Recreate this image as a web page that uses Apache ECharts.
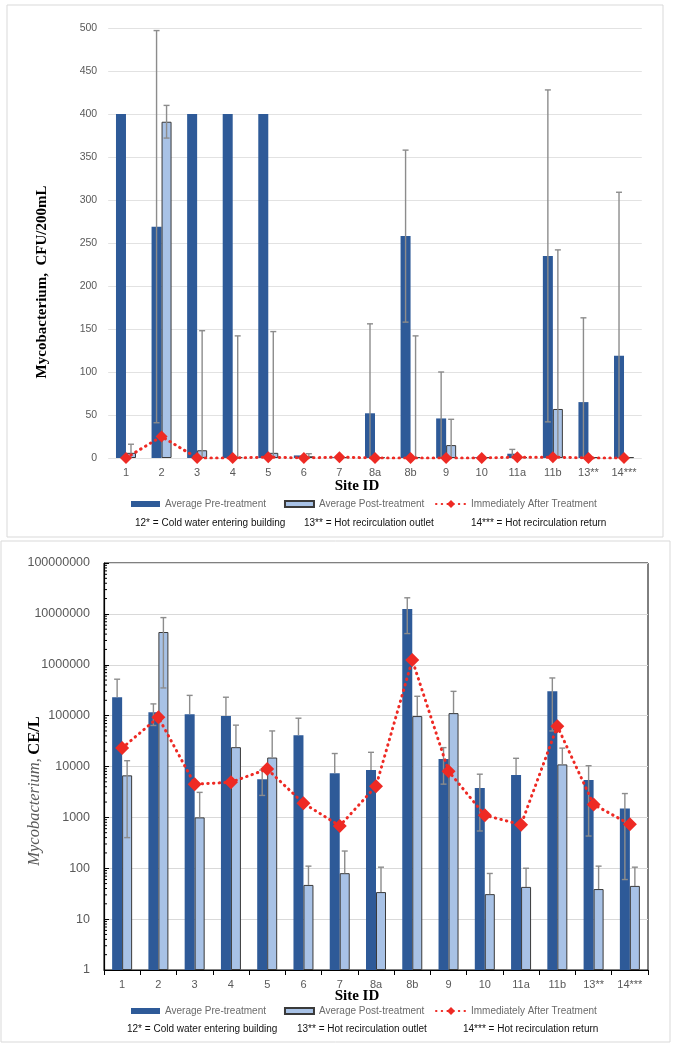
<!DOCTYPE html>
<html><head><meta charset="utf-8">
<script src="https://cdn.jsdelivr.net/npm/echarts@6/dist/echarts.min.js"></script>
<style>html,body{margin:0;padding:0;background:#fff}#c{width:680px;height:1050px}</style>
</head><body><div id="c"></div>
<script>
// ---------- DATA ----------
const cats = ['1','2','3','4','5','6','7','8a','8b','9','10','11a','11b','13**','14***'];
const seriesNames = ['Average Pre-treatment','Average Post-treatment','Immediately After Treatment'];

// Top chart: CFU/200mL (linear)
const topPre     = [400,269,400,400,400,3,1,52,258,46,1,5,235,65,119];
const topPreErr  = [0,228,0,0,0,0,0,104,100,54,0,5,193,98,190];
const topPost    = [6,391,9,1,6,2,1,1,1,15,1,1,57,1,1];
const topPostErr = [10,19,139,141,141,3,0,0,141,30,0,0,185,0,0];
const topImm     = [0,25,0,0,1,0,1,0,0,0,0,1,1,0,0];

// Bottom chart: CE/L (log)
const botPre     = [230000,117000,107000,98000,5600,41000,7400,8500,12400000,14000,3800,6800,300000,5400,1500];
const botPreErr  = [290000,53000,143000,132000,2900,48000,10600,10500,8300000,9500,3260,7700,250000,4970,1440];
const botPost    = [6700,4400000,1000,24000,15000,47,80,34,98000,112000,31,43,11000,39,45];
const botPostErr = [6300,4050000,2100,41000,35000,63,138,71,142000,188000,48,57,12000,71,60];
const botImm     = [23000,93000,4500,4900,8900,1900,680,4100,1240000,8100,1100,720,62000,1800,730];

const notes = ['12* = Cold water entering building','13** = Hot recirculation outlet','14*** = Hot recirculation return'];

// minor log ticks (2..9 x 10^k)
const minorVals = [];
for (let k = 0; k < 8; k++) for (let m = 2; m <= 9; m++) minorVals.push(m * Math.pow(10, k));

// ---------- STYLE ----------
const SANS = '"Liberation Sans", Arial, sans-serif';
const SERIF = '"Liberation Serif", "Times New Roman", serif';
const PRE = '#2E5A98', POST = '#A8C2E6', RED = '#EE2A24', ERR = '#8c8c8c';

function errRender(offset, isLog) {
  return function (params, api) {
    const idx = api.value(0), v = api.value(1), e = api.value(2);
    if (!e) return null;
    const hi = v + e, lo = v - e;
    const pHi = api.coord([idx, hi]);
    const x = pHi[0] + offset;
    const children = [];
    let yLo, lowCap = false;
    if (lo > 0) { yLo = api.coord([idx, lo])[1]; lowCap = true; }
    else { yLo = isLog ? api.coord([idx, v])[1] : api.coord([idx, 0])[1]; }
    const st = { stroke: ERR, lineWidth: 1.4 };
    children.push({ type: 'line', shape: { x1: x, y1: pHi[1], x2: x, y2: yLo }, style: st });
    children.push({ type: 'line', shape: { x1: x - 3, y1: pHi[1], x2: x + 3, y2: pHi[1] }, style: st });
    if (lowCap) children.push({ type: 'line', shape: { x1: x - 3, y1: yLo, x2: x + 3, y2: yLo }, style: st });
    return { type: 'group', children };
  };
}
const tri = (v, e) => cats.map((c, i) => [i, v[i], e[i]]);

const barBase = (name, gi, data, post) => ({
  type: 'bar', name, xAxisIndex: gi, yAxisIndex: gi, data, barWidth: 10, barGap: '0%',
  itemStyle: post ? { color: POST, borderColor: '#3a3a3a', borderWidth: 1 } : { color: PRE },
  emphasis: { disabled: true }, z: 2
});
const errSeries = (gi, v, e, off, isLog) => ({
  type: 'custom', xAxisIndex: gi, yAxisIndex: gi, data: tri(v, e),
  encode: { x: 0, y: 1 }, renderItem: errRender(off, isLog), z: 4, silent: true
});
const lineSeries = (gi, data, size) => ({
  type: 'line', name: seriesNames[2], xAxisIndex: gi, yAxisIndex: gi, data,
  symbol: 'diamond', symbolSize: size,
  itemStyle: { color: RED },
  lineStyle: { color: RED, width: 3, type: [0.5, 5.2], cap: 'round' },
  z: 10, emphasis: { disabled: true }
});

const legTxt = { fontSize: 10, color: '#6a6a6a', fontFamily: SANS };
const barLegend = (top) => ({
  left: 131, top, padding: 0, itemWidth: 29, itemHeight: 6, itemGap: 18, icon: 'rect',
  textStyle: legTxt, data: seriesNames.slice(0, 2), selectedMode: false
});
const lineLegend = (top) => ({
  left: 435, top, padding: 0, itemWidth: 30, itemHeight: 10,
  textStyle: legTxt, data: [seriesNames[2]], selectedMode: false
});

const option = {
  animation: false,
  backgroundColor: '#fff',
  grid: [
    { left: 108.2, right: 38.2, top: 28, height: 430 },
    { left: 104, right: 32, top: 563, height: 407, show: true, borderColor: '#000', borderWidth: 1 }
  ],
  legend: [barLegend(499), lineLegend(499), barLegend(1006), lineLegend(1006)],
  xAxis: [
    { type: 'category', gridIndex: 0, data: cats,
      axisLine: { show: false }, axisTick: { show: false },
      axisLabel: { color: '#595959', fontSize: 11, fontFamily: SANS, margin: 9 } },
    { type: 'category', gridIndex: 1, data: cats,
      axisLine: { show: true, lineStyle: { color: '#000', width: 1.2 } },
      axisTick: { show: true, length: 5, lineStyle: { color: '#000' } },
      axisLabel: { color: '#595959', fontSize: 11, fontFamily: SANS, margin: 9 } }
  ],
  yAxis: [
    { type: 'value', gridIndex: 0, min: 0, max: 500, interval: 50,
      axisLine: { show: false }, axisTick: { show: false },
      axisLabel: { color: '#595959', fontSize: 10.5, fontFamily: SANS, margin: 11 },
      splitLine: { lineStyle: { color: '#e2e2e2', width: 1 } } },
    { type: 'log', gridIndex: 1, logBase: 10, min: 1, max: 100000000, splitNumber: 8,
      axisLine: { show: true, lineStyle: { color: '#000', width: 1.2 } },
      axisTick: { show: true, inside: true, length: 5, lineStyle: { color: '#000' } },
      axisLabel: { color: '#595959', fontSize: 12.5, fontFamily: SANS, margin: 14,
        formatter: v => String(Math.round(v)) },
      splitLine: { show: true, lineStyle: { color: '#d9d9d9', width: 1 } } }
  ],
  series: [
    barBase(seriesNames[0], 0, topPre, false),
    barBase(seriesNames[1], 0, topPost, true),
    errSeries(0, topPre, topPreErr, -5, false),
    errSeries(0, topPost, topPostErr, 5, false),
    lineSeries(0, topImm, 12),
    barBase(seriesNames[0], 1, botPre, false),
    barBase(seriesNames[1], 1, botPost, true),
    errSeries(1, botPre, botPreErr, -5, true),
    errSeries(1, botPost, botPostErr, 5, true),
    lineSeries(1, botImm, 14),
    { type: 'custom', xAxisIndex: 1, yAxisIndex: 1, data: minorVals.map(v => [0, v]),
      encode: { x: 0, y: 1 }, silent: true, z: 3,
      renderItem: (params, api) => {
        const p = api.coord([0, api.value(1)]);
        const x0 = params.coordSys.x;
        return { type: 'line', shape: { x1: x0, y1: p[1], x2: x0 + 3, y2: p[1] }, style: { stroke: '#000', lineWidth: 1 } };
      } }
  ],
  graphic: [
    { type: 'rect', shape: { x: 7, y: 5, width: 656, height: 532 }, style: { fill: null, stroke: '#d9d9d9', lineWidth: 1 }, z: -1 },
    { type: 'rect', shape: { x: 1, y: 541, width: 669, height: 501 }, style: { fill: null, stroke: '#d9d9d9', lineWidth: 1 }, z: -1 },
    { type: 'text', x: 42, y: 282, rotation: Math.PI / 2,
      style: { text: 'Mycobacterium,  CFU/200mL', font: 'bold 15px ' + SERIF, fill: '#000', align: 'center', verticalAlign: 'middle' } },
    { type: 'text', x: 35, y: 791, rotation: Math.PI / 2,
      style: { text: '{i|Mycobacterium,} {b|CE/L}', align: 'center', verticalAlign: 'middle',
        rich: { i: { fontStyle: 'italic', fontSize: 16.5, fontFamily: SERIF, fill: '#595959' },
                b: { fontWeight: 'bold', fontSize: 16.5, fontFamily: SERIF, fill: '#000' } } } },
    { type: 'text', x: 357, y: 486, style: { text: 'Site ID', font: 'bold 15px ' + SERIF, fill: '#000', align: 'center', verticalAlign: 'middle' } },
    { type: 'text', x: 357, y: 996, style: { text: 'Site ID', font: 'bold 15px ' + SERIF, fill: '#000', align: 'center', verticalAlign: 'middle' } },
    { type: 'text', x: 135, y: 523, style: { text: notes[0], font: '10px ' + SANS, fill: '#111', verticalAlign: 'middle' } },
    { type: 'text', x: 304, y: 523, style: { text: notes[1], font: '10px ' + SANS, fill: '#111', verticalAlign: 'middle' } },
    { type: 'text', x: 471, y: 523, style: { text: notes[2], font: '10px ' + SANS, fill: '#111', verticalAlign: 'middle' } },
    { type: 'text', x: 127, y: 1029, style: { text: notes[0], font: '10px ' + SANS, fill: '#111', verticalAlign: 'middle' } },
    { type: 'text', x: 297, y: 1029, style: { text: notes[1], font: '10px ' + SANS, fill: '#111', verticalAlign: 'middle' } },
    { type: 'text', x: 463, y: 1029, style: { text: notes[2], font: '10px ' + SANS, fill: '#111', verticalAlign: 'middle' } }
  ]
};
const chart = echarts.init(document.getElementById('c'), null, { renderer: 'canvas' });
chart.setOption(option);
</script></body></html>
